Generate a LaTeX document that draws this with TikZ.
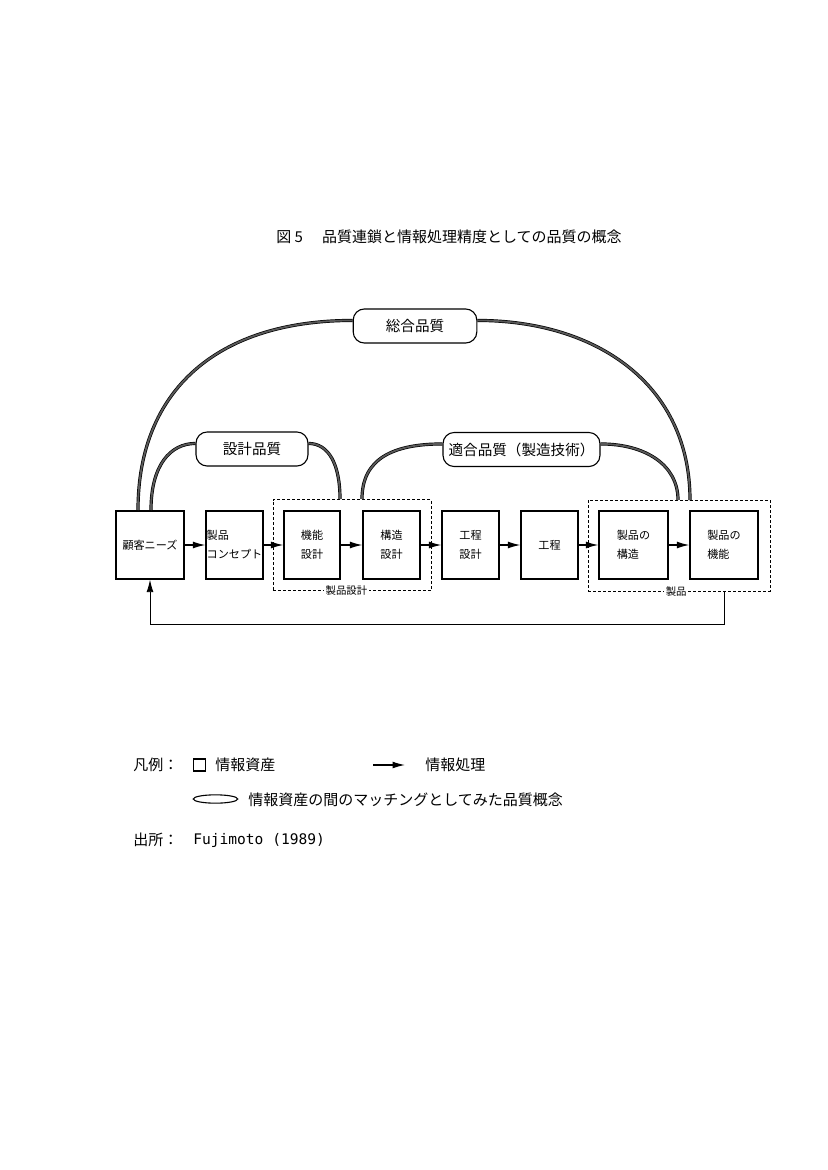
\documentclass[tikz,border=0pt]{standalone}
\usepackage{fontspec}
\setmainfont{Noto Sans CJK JP}
\newfontfamily\latinmono{DejaVu Sans Mono}
\usetikzlibrary{arrows.meta,calc,shapes.geometric}

\begin{document}
\begin{tikzpicture}[x=0.72pt,y=-0.72pt,
  box/.style={draw, line width=0.9pt, minimum height=49pt, inner sep=1pt, align=left, font=\fontsize{8pt}{13.7pt}\selectfont},
  grp/.style={draw, line width=0.6pt, dash pattern=on 2pt off 1.6pt, minimum height=65.5pt},
  qual/.style={draw, line width=0.8pt, rounded corners=8pt, minimum height=24.5pt, font=\fontsize{10.5pt}{12pt}\selectfont},
  flow/.style={line width=0.9pt, -{Latex[length=9pt,width=5pt]}},
  link/.style={line width=0.5pt, double=black!65, double distance=1.3pt},
  grplabel/.style={fill=white, inner sep=1pt, font=\fontsize{7.5pt}{9pt}\selectfont},
  txt/.style={font=\fontsize{10.8pt}{13pt}\selectfont, inner sep=0pt, anchor=west}
]
\useasboundingbox (0,0) rectangle (827,1170);

% title
\node[txt] (title) at (276,237) {\makebox[33pt][l]{図 5}品質連鎖と情報処理精度としての品質の概念};

% groups
\node[grp, minimum width=113.8pt] (dgrp) at (352,545) {};
\node[grp, minimum width=131pt] (pgrp) at (679,545.5) {};
\node[grplabel] (dlab) at ([xshift=-4pt]dgrp.south) {製品設計};
\node[grplabel] (plab) at ([xshift=-2pt]pgrp.south) {製品};

% boxes
\node[box, minimum width=49pt] (cn) at (150,545) {顧客ニーズ};
\node[box, minimum width=41pt, inner sep=0.5pt] (pc) at (234.5,545) {製品\\コンセプト};
\node[box, minimum width=40.3pt] (fd) at (312,545) {機能\\設計};
\node[box, minimum width=41pt] (sd) at (391.5,545) {構造\\設計};
\node[box, minimum width=41pt] (pd) at (470.5,545) {工程\\設計};
\node[box, minimum width=41pt] (pr) at (549.5,545) {工程};
\node[box, minimum width=49.7pt] (ps) at (633.5,545) {製品の\\構造};
\node[box, minimum width=49pt] (pf) at (724,545) {製品の\\機能};

% flow arrows
\draw[flow] (cn) -- (pc);
\draw[flow] (pc) -- (fd);
\draw[flow] (fd) -- (sd);
\draw[flow] (sd) -- (pd);
\draw[flow] (pd) -- (pr);
\draw[flow] (pr) -- (ps);
\draw[flow] (ps) -- (pf);

% feedback
\draw[line width=0.6pt, -{Latex[length=9pt,width=5pt]}] (pgrp.south -| pf) -- ++(0,33) -| (cn.south);

% quality labels
\node[qual, minimum width=89pt] (tq) at (415,326) {総合品質};
\node[qual, minimum width=80.6pt] (dq) at (252,449) {設計品質};
\node[qual, minimum width=113pt] (cq) at (521.5,449.5) {適合品質（製造技術）};

\coordinate (bl) at (138,510);
\coordinate (dl) at (151,510);
\coordinate (dr) at (340,499);
\coordinate (cl) at (362,499);
\coordinate (cr) at (678,500);
\coordinate (br) at (690,500);

\draw[link] (bl) .. controls +(0,-120) and +(-135,0) .. ([yshift=4pt]tq.west);
\draw[link] ([yshift=4pt]tq.east) .. controls +(120,0) and +(0,-115) .. (br);
\draw[link] (dl) .. controls +(0,-45) and +(-25,0) .. ([yshift=4pt]dq.west);
\draw[link] ([yshift=4pt]dq.east) .. controls +(20,0) and +(0,-35) .. (dr);
\draw[link] (cl) .. controls +(0,-40) and +(-50,0) .. ([yshift=4pt]cq.west);
\draw[link] ([yshift=4pt]cq.east) .. controls +(45,0) and +(0,-35) .. (cr);

% legend
\node[txt] (lg) at (133,765) {凡例：};
\node[draw, line width=0.8pt, minimum size=8.6pt, inner sep=0pt] (lsq) at (199.5,765) {};
\node[txt] (lsqt) at (215,765) {情報資産};
\coordinate (la1) at (373,765);
\coordinate (la2) at (405,765);
\draw[flow] (la1) -- (la2);
\node[txt] (lat) at (425,765) {情報処理};
\node[draw, ellipse, line width=0.8pt, minimum width=32pt, minimum height=6pt, inner sep=0pt] (lel) at (215.5,799) {};
\node[txt] (lelt) at (248,800) {情報資産の間のマッチングとしてみた品質概念};
\node[txt] (src) at (133,840) {出所：};
\node[txt, font=\latinmono\fontsize{10.5pt}{12pt}\selectfont] (srct) at (193,840) {Fujimoto (1989)};
\end{tikzpicture}
\end{document}
